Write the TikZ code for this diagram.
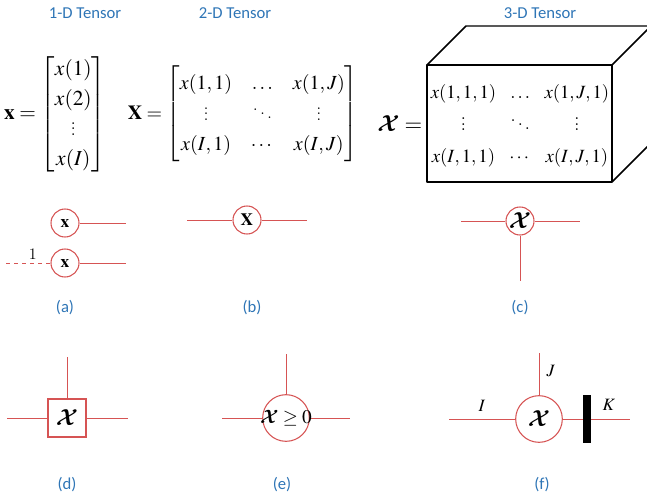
\documentclass[tikz,border=0pt]{standalone}
\usepackage{amsmath}
\usepackage[no-math]{fontspec}
\usepackage{mathptmx}
\usepackage{bm}
\newfontfamily\capfont{Carlito}
\DeclareMathAlphabet{\mathcalb}{OMS}{cmsy}{b}{n}
\newcommand{\tX}{\mathcalb{X}}
\usetikzlibrary{positioning}
\definecolor{capc}{RGB}{46,117,182}
\definecolor{legc}{RGB}{214,84,84}
\tikzset{
  tn/.style={circle,draw=legc,line width=0.8pt,fill=white,minimum size=21pt,inner sep=0pt,font=\fontsize{13}{15}\selectfont},
  big/.style={tn,minimum size=35pt,font=\fontsize{17}{19}\selectfont},
  sq/.style={rectangle,draw=legc,line width=0.8pt,fill=white,minimum size=28.5pt,inner sep=0pt,font=\fontsize{17}{19}\selectfont},
  leg/.style={legc,line width=0.7pt},
  capt/.style={font=\capfont\fontsize{12.5}{14}\selectfont,text=capc},
  mat/.style={inner sep=0pt},
  idx/.style={font=\fontsize{13}{15}\selectfont},
}
\begin{document}
\begin{tikzpicture}[x=0.75pt,y=-0.75pt]
  \useasboundingbox (0,0) rectangle (647,496);
  % titles
  \node[capt](t1) at (85,13){1-D Tensor};
  \node[capt](t2) at (235,13){2-D Tensor};
  \node[capt](t3) at (540,13){3-D Tensor};
  % 1-D
  \node[mat,font=\fontsize{16}{22.5}\selectfont](vx) at (55,114)
    {$\mathbf{x}=\left[\begin{matrix}x(1)\\x(2)\\\vdots\\x(I)\end{matrix}\right]$};
  % 2-D
  \node[mat,font=\fontsize{15}{23}\selectfont,
    execute at begin node={\setlength\arraycolsep{7pt}}](mX) at (243,114)
    {$\mathbf{X}=\left[\begin{matrix}x(1,1)&\ldots&x(1,J)\\\vdots&\ddots&\vdots\\x(I,1)&\cdots&x(I,J)\end{matrix}\right]$};
  % 3-D
  \draw[line width=1.1pt,line join=round] (427,65) rectangle (612,182);
  \draw[line width=1.1pt,line join=round] (427,65) -- (466,26) -- (651,26) -- (612,65)
    (651,26) -- (651,143) -- (612,182);
  \node[mat,font=\fontsize{14}{24}\selectfont](tXm) at (520,124)
    {$\begin{matrix}x(1,1,1)&\ldots&x(1,J,1)\\\vdots&\ddots&\vdots\\x(I,1,1)&\cdots&x(I,J,1)\end{matrix}$};
  \node[mat,font=\fontsize{17}{20}\selectfont,left=6pt of tXm](tXl){$\tX=$};
  % (a)
  \node[tn](a1) at (65,223){$\mathbf{x}$};
  \node[tn](a2) at (65,263){$\mathbf{x}$};
  \coordinate (a1r) at (126,223);
  \coordinate (a2r) at (126,263);
  \coordinate (a2l) at (6,263);
  \draw[leg] (a1)--(a1r); \draw[leg] (a2)--(a2r);
  \draw[leg,dashed] (a2l) -- node[pos=0.6,above=-1pt,text=black,font=\fontsize{12}{14}\selectfont\bfseries](one){1} (a2);
  \node[capt](ca) at (65,308){(a)};
  % (b)
  \node[tn](b) at (247,220){$\mathbf{X}$};
  \coordinate (bl) at (187,220); \coordinate (br) at (307,220);
  \draw[leg] (bl)--(b); \draw[leg] (b)--(br);
  \node[capt](cb) at (252,308){(b)};
  % (c)
  \node[tn,font=\fontsize{16}{18}\selectfont](c) at (520,221){$\tX$};
  \coordinate (cl) at (461,221); \coordinate (cr) at (580,221); \coordinate (cd) at (520,281);
  \draw[leg] (cl)--(c); \draw[leg] (c)--(cr); \draw[leg] (c)--(cd);
  \node[capt](cc) at (520,308){(c)};
  % (d)
  \node[sq](d) at (67,418){$\tX$};
  \coordinate (dl) at (7,418); \coordinate (dr) at (128,418); \coordinate (du) at (67,357);
  \draw[leg] (dl)--(d); \draw[leg] (d)--(dr); \draw[leg] (du)--(d);
  \node[capt](cd2) at (67,485){(d)};
  % (e)
  \node[big](e) at (286,418){};
  \coordinate (el) at (222,418); \coordinate (er) at (350,418); \coordinate (eu) at (286,354);
  \draw[leg] (el)--(e); \draw[leg] (e)--(er); \draw[leg] (eu)--(e);
  \node[inner sep=0pt,font=\fontsize{14.5}{17}\selectfont](etxt) at (e){$\tX\geq 0$};
  \node[capt](ce) at (282,485){(e)};
  % (f)
  \node[big](f) at (539,419){$\tX$};
  \coordinate (fl) at (449,419); \coordinate (fr) at (630,419); \coordinate (fu) at (539,353);
  \draw[leg] (fl)--(f); \draw[leg] (fu)--(f); \draw[leg] (f)--(fr);
  \node[fill=black,minimum width=6pt,minimum height=36pt,inner sep=0pt](bar) at (587,419){};
  \node[idx](lI) at (482,406){$I$};
  \node[idx](lJ) at (551,371){$J$};
  \node[idx](lK) at (609,405){$K$};
  \node[capt](cf) at (542,485){(f)};
\end{tikzpicture}
\end{document}
